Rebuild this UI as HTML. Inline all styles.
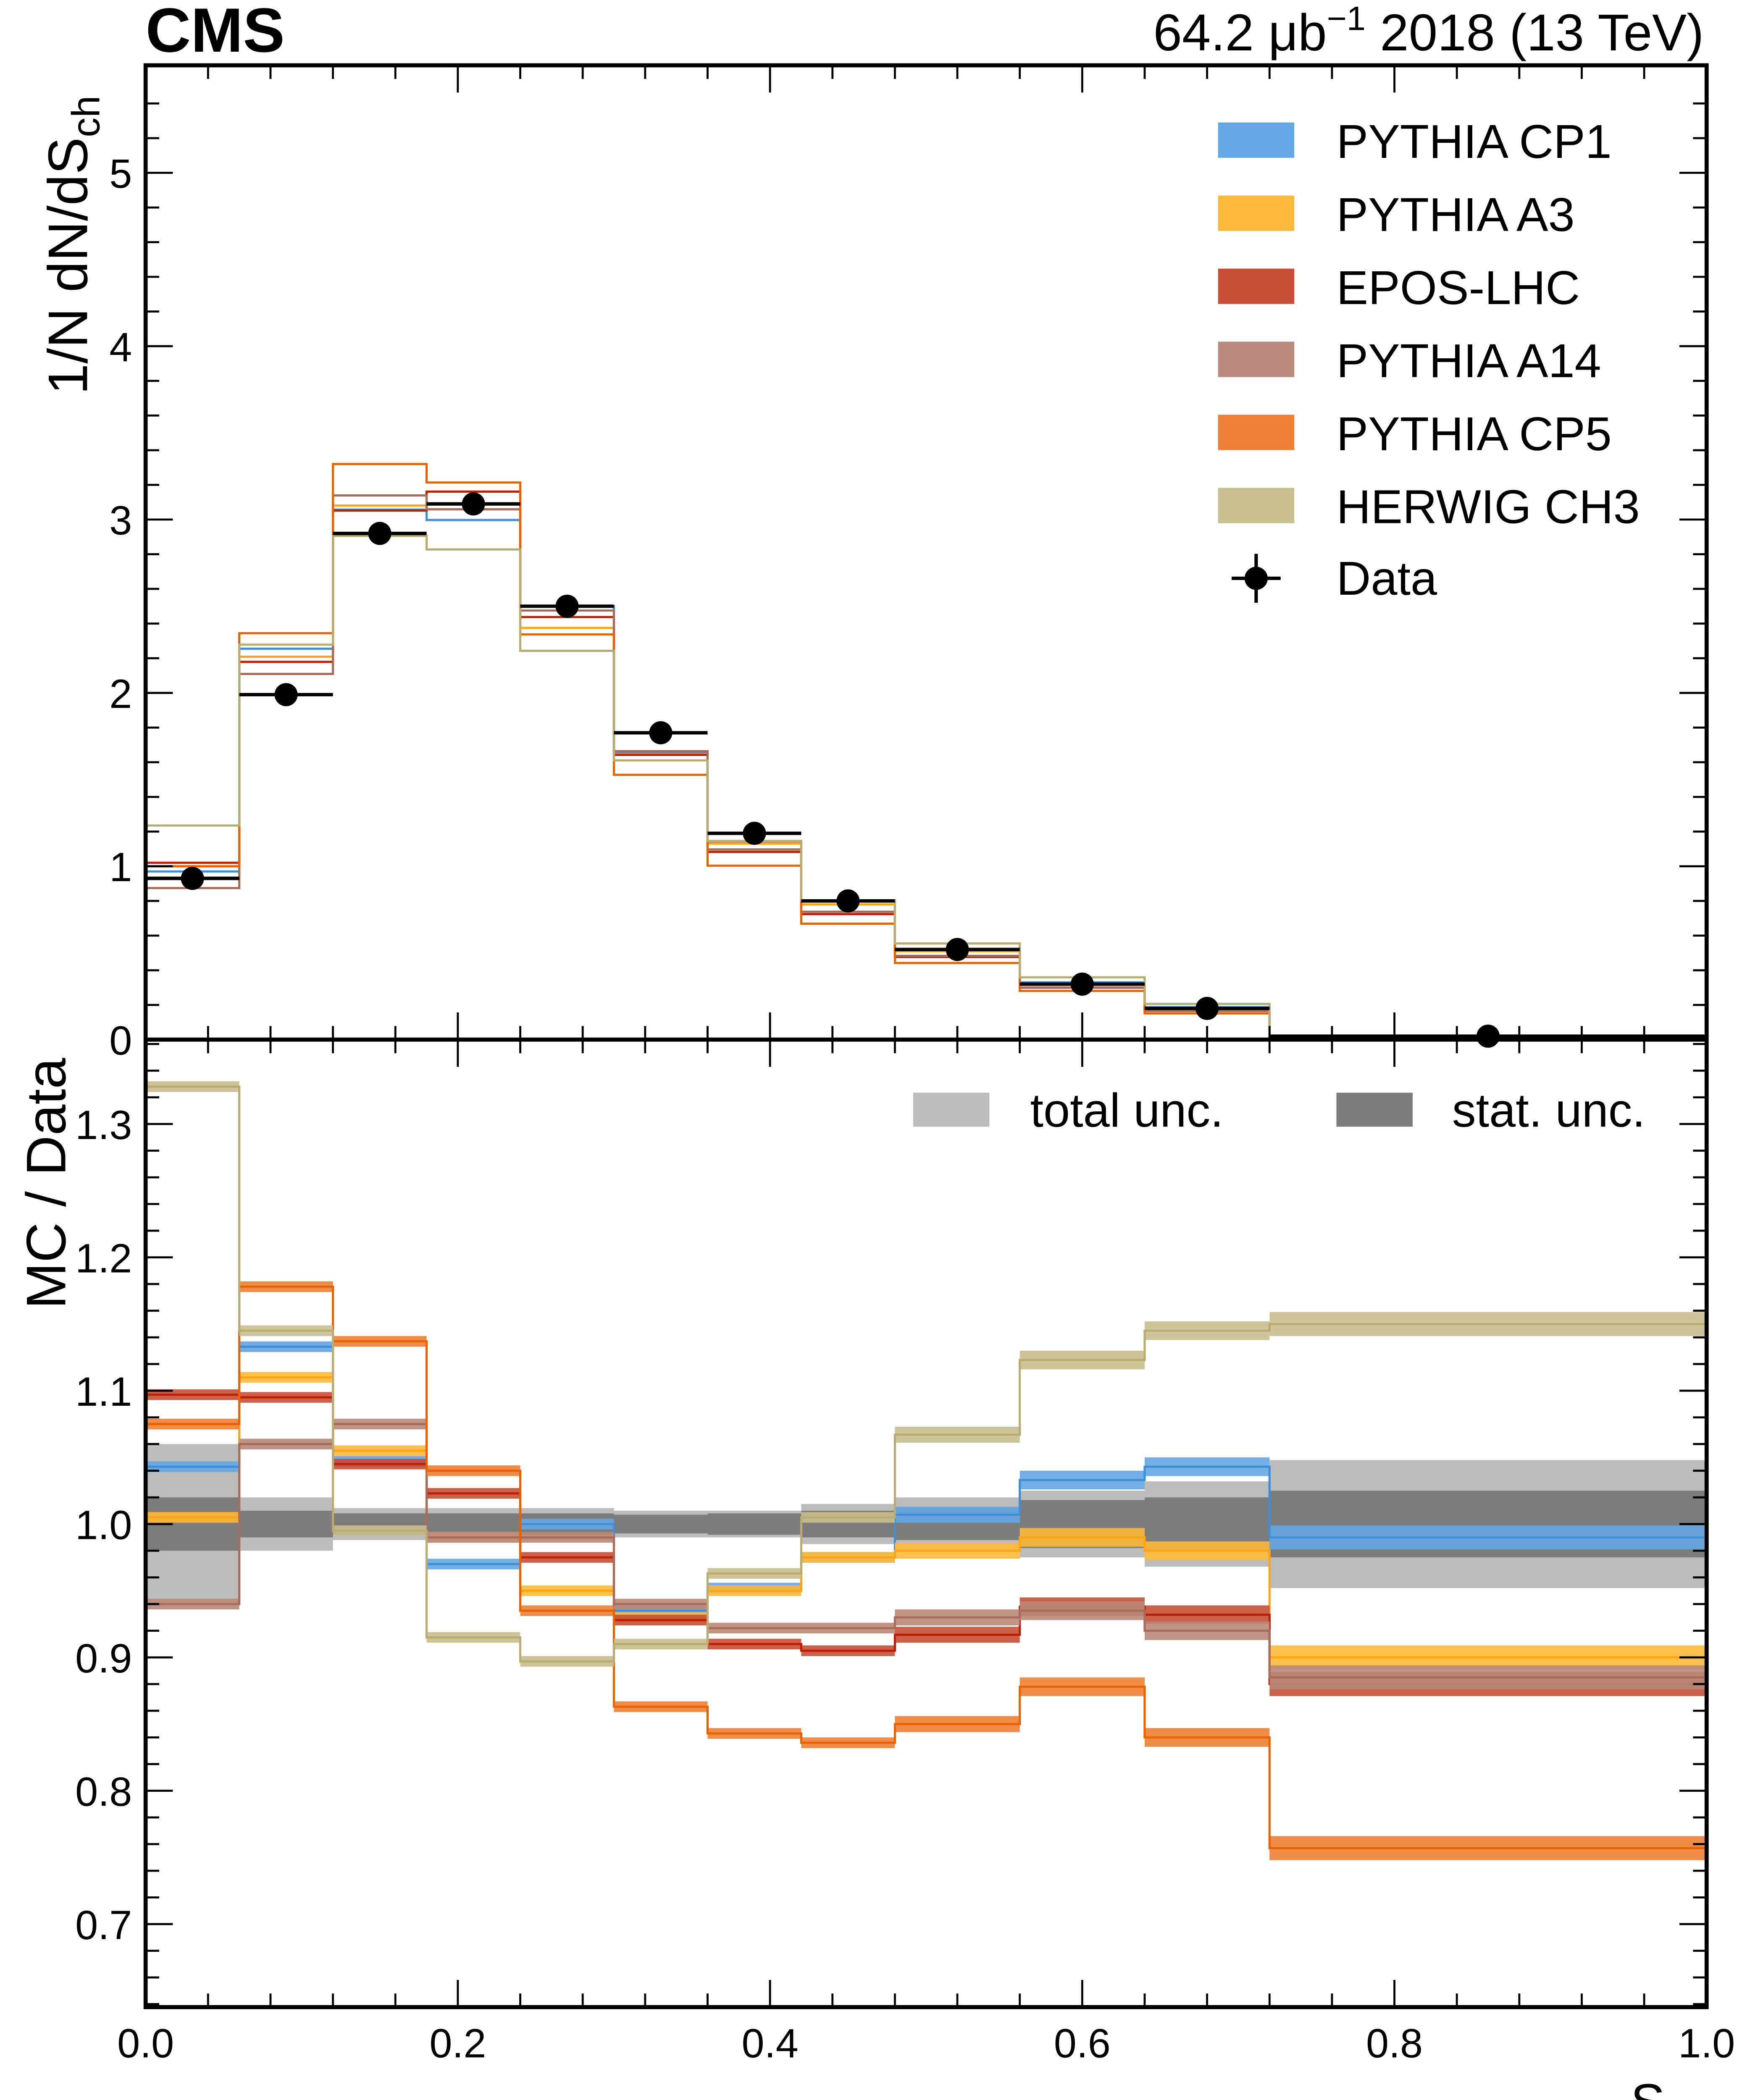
<!DOCTYPE html>
<html><head><meta charset="utf-8"><style>
html,body{margin:0;padding:0;background:#fff;overflow:hidden;width:4147px;height:5086px}
svg{display:block}
text{font-family:"Liberation Sans",Arial,sans-serif}
</style></head><body>
<svg id="chart" width="4147" height="5086" viewBox="0 0 1280 1569.8" preserveAspectRatio="none" xmlns="http://www.w3.org/2000/svg">
<g id="bands"></g>
<g id="mc"></g>
<g id="pts"></g>
<g id="axes"></g>
<text x="107" y="38" font-size="46" font-weight="bold">CMS</text>
<text x="1252" y="37" font-size="38" text-anchor="end">64.2 μb<tspan dy="-15" font-size="25">−1</tspan><tspan dy="15"> 2018 (13 TeV)</tspan></text>
<text transform="translate(64,290) rotate(-90)" font-size="41">1/N dN/dS<tspan dy="9" font-size="29">ch</tspan></text>
<text transform="translate(48,962) rotate(-90)" font-size="41">MC / Data</text>
<text x="1252" y="1558" font-size="38" text-anchor="end">S<tspan dy="8" font-size="27">ch</tspan></text>
<g id="legend"></g>
</svg>
<script>
const edges=[0,0.06,0.12,0.18,0.24,0.30,0.36,0.42,0.48,0.56,0.64,0.72,1.0];
const dataVals=[0.93,1.99,2.92,3.09,2.50,1.77,1.19,0.80,0.52,0.32,0.18,0.02];
const totUnc=[0.06,0.02,0.012,0.012,0.012,0.01,0.01,0.015,0.02,0.025,0.032,0.048];
const statUnc=[0.02,0.01,0.008,0.008,0.008,0.007,0.008,0.01,0.012,0.018,0.02,0.025];
const mcUnc=[0.004,0.004,0.004,0.004,0.004,0.004,0.004,0.004,0.006,0.007,0.007,0.009];
const modelNames=["PYTHIA CP1","PYTHIA A3","EPOS-LHC","PYTHIA A14","PYTHIA CP5","HERWIG CH3"];
const ratioCP1=[1.043,1.133,1.047,0.970,1.000,0.935,0.952,0.975,1.007,1.033,1.043,0.990];
const ratioA3=[1.005,1.110,1.055,0.990,0.950,0.930,0.950,0.975,0.980,0.990,0.980,0.900];
const ratioEPOS=[1.097,1.095,1.045,1.023,0.975,0.928,0.910,0.905,0.917,0.938,0.932,0.880];
const ratioA14=[0.940,1.060,1.075,0.990,0.990,0.940,0.922,0.922,0.930,0.935,0.920,0.885];
const ratioCP5=[1.075,1.178,1.137,1.040,0.935,0.863,0.843,0.836,0.850,0.878,0.840,0.757];
const ratioCH3=[1.328,1.145,0.995,0.915,0.897,0.910,0.963,1.005,1.067,1.123,1.145,1.150];
const ratios=[ratioCP1,ratioA3,ratioEPOS,ratioA14,ratioCP5,ratioCH3];
const fillCols=["#62a6e3","#fdb93c","#c84f37","#b8887a","#ec7f34","#c8bf8e"];
const lineCols=["#3f8fd8","#ffa510","#bd1f01","#a96b59","#e76300","#b9ac70"];
const topTicks=[0,1,2,3,4,5];
const ratTicks=[0.7,0.8,0.9,1.0,1.1,1.2,1.3];
const xTicks=[0,0.2,0.4,0.6,0.8,1.0];

const NS="http://www.w3.org/2000/svg";
const L=107,R=1254,T=48,M=764,B=1475;
const X=v=>L+(R-L)*v;
const Yt=v=>M-v*127.4;
const Yr=v=>1120-(v-1)*980;
function mk(tag,attrs,parent){const e=document.createElementNS(NS,tag);for(const k in attrs)e.setAttribute(k,attrs[k]);parent.appendChild(e);return e;}
const bands=document.getElementById('bands'),mc=document.getElementById('mc'),pts=document.getElementById('pts'),axes=document.getElementById('axes'),leg=document.getElementById('legend');

for(let i=0;i<dataVals.length;i++){
  const x0=X(edges[i]),x1=X(edges[i+1]);
  let r=mk('rect',{x:x0,y:Yr(1+totUnc[i]),width:x1-x0,height:Yr(1-totUnc[i])-Yr(1+totUnc[i]),fill:'#bcbcbc'},bands);
  
  
  r=mk('rect',{x:x0,y:Yr(1+statUnc[i]),width:x1-x0,height:Yr(1-statUnc[i])-Yr(1+statUnc[i]),fill:'#7c7c7c'},bands);
  
  
}
ratios.forEach((rat,m)=>{
  let dTop='',dRat='';
  for(let i=0;i<rat.length;i++){
    const x0=X(edges[i]),x1=X(edges[i+1]);
    const yt=Yt(rat[i]*dataVals[i]),yr=Yr(rat[i]);
    dTop+=(i?'L':'M')+x0+','+yt+'L'+x1+','+yt;
    dRat+=(i?'L':'M')+x0+','+yr+'L'+x1+','+yr;
    const hu=Math.max(3,mcUnc[i]*980);
    const b=mk('rect',{x:x0,y:yr-hu,width:x1-x0,height:2*hu,fill:fillCols[m],opacity:0.9},mc);
    
    
  }
  let p=mk('path',{d:dRat,fill:'none',stroke:lineCols[m],'stroke-width':1.6},mc);
  
  
  p=mk('path',{d:dTop,fill:'none',stroke:lineCols[m],'stroke-width':1.6},mc);
  
  
});
for(let i=0;i<dataVals.length;i++){
  const x0=X(edges[i]),x1=X(edges[i+1]),y=Yt(dataVals[i]);
  let l=mk('line',{x1:x0,x2:x1,y1:y,y2:y,stroke:'#000','stroke-width':2.5},pts);
  
  
  const c=mk('circle',{cx:(x0+x1)/2,cy:y,r:8.5,fill:'#000'},pts);
  
  
}
let f=mk('rect',{x:L,y:T,width:R-L,height:B-T,fill:'none',stroke:'#000','stroke-width':3},axes);


f=mk('line',{x1:L,x2:R,y1:M,y2:M,stroke:'#000','stroke-width':3},axes);


function tick(x1,y1,x2,y2){const t=mk('line',{x1,y1,x2,y2,stroke:'#000','stroke-width':1.5},axes);}
for(let v=0;v<=5.6;v+=0.2){const y=Yt(v);if(y<T+1)break;const maj=Math.abs(v-Math.round(v))<1e-6;const len=maj?20:10;tick(L,y,L+len,y);tick(R,y,R-len,y);}
topTicks.forEach(v=>{const t=mk('text',{x:L-10,y:Yt(v)+11,'font-size':30,'text-anchor':'end'},axes);t.textContent=v;});
for(let k=32;k<=68;k++){const v=k*0.02;const y=Yr(v);if(y<M+1||y>B-1)continue;const maj=k%5===0;const len=maj?20:10;tick(L,y,L+len,y);tick(R,y,R-len,y);}
ratTicks.forEach(v=>{const t=mk('text',{x:L-10,y:Yr(v)+11,'font-size':30,'text-anchor':'end'},axes);t.textContent=v.toFixed(1);});
for(let k=0;k<=25;k++){const v=k*0.04;const x=X(v);const maj=k%5===0;const len=maj?20:10;tick(x,B,x,B-len);tick(x,M,x,M-len);tick(x,M,x,M+len);tick(x,T,x,T+len);}
xTicks.forEach(v=>{const t=mk('text',{x:X(v),y:1512,'font-size':30,'text-anchor':'middle'},axes);t.textContent=v.toFixed(1);});
modelNames.forEach((n,m)=>{
  const y=90+m*53.7;
  const r=mk('rect',{x:895,y:y,width:56,height:26,fill:fillCols[m]},leg);
  
  
  const t=mk('text',{x:982,y:y+26,'font-size':35},leg);
  t.textContent=n;
  
  
});
{const y=425;
 let l=mk('line',{x1:905,x2:941,y1:y,y2:y,stroke:'#000','stroke-width':2.5},leg);
 l=mk('line',{x1:923,x2:923,y1:y-18,y2:y+18,stroke:'#000','stroke-width':2.5},leg);
 const c=mk('circle',{cx:923,cy:y,r:8.5,fill:'#000'},leg);
 const t=mk('text',{x:982,y:y+12,'font-size':35},leg);t.textContent='Data';}
[[671,'#bcbcbc','total unc.',757],[982,'#7c7c7c','stat. unc.',1067]].forEach(e=>{
  const r=mk('rect',{x:e[0],y:803,width:56,height:25,fill:e[1]},leg);
  
  
  const t=mk('text',{x:e[3],y:828,'font-size':35},leg);
  t.textContent=e[2];
  
  
});
</script>
</body></html>
